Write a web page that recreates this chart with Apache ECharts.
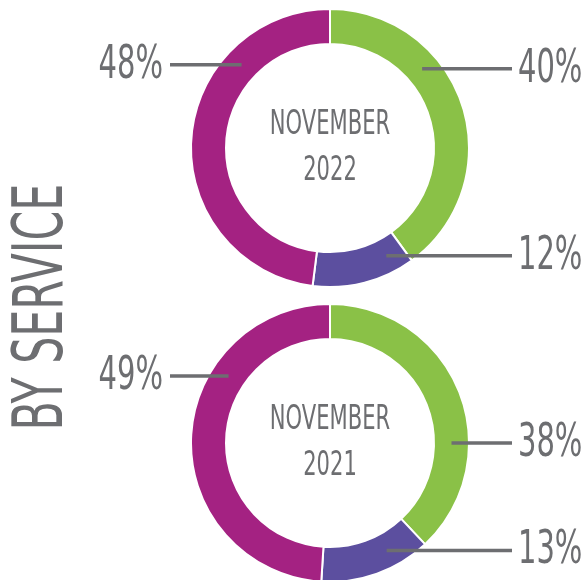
<!DOCTYPE html>
<html>
<head>
<meta charset="utf-8">
<script src="https://cdn.jsdelivr.net/npm/echarts@6/dist/echarts.min.js"></script>
<style>
html,body{margin:0;padding:0;background:#fff;}
#chart{width:585px;height:580px;}
</style>
</head>
<body>
<div id="chart"></div>
<script>
// ---- data ----
const categories = ['Service A', 'Service B', 'Service C'];
const periodLabels = ['NOVEMBER\n2022', 'NOVEMBER\n2021'];
const values2022 = [40, 12, 48];
const values2021 = [38, 13, 49];
const sideTitle = 'BY SERVICE';

// ---- layout / style ----
const sliceColors = ['#8AC147', '#5C4F9F', '#A42282'];
const textGray = '#6D6E71';
const fontStack = "'DejaVu Sans Condensed', 'Liberation Sans Narrow', 'DejaVu Sans', sans-serif";
const pieCenters = [[330, 148], [330, 443]];
const innerR = 104, outerR = 139;
// angle (deg, counter-clockwise from 3 o'clock) where each leader line starts inside the ring
const anchorAngles = [[40.7, -62.4, 136.7], [0, -62.2, 146.6]];

const chart = echarts.init(document.getElementById('chart'), null, {renderer: 'canvas'});

function makePie(idx, values) {
  const [cx, cy] = pieCenters[idx];
  return {
    type: 'pie',
    center: [cx, cy],
    radius: [innerR, outerR],
    startAngle: 90,
    clockwise: true,
    avoidLabelOverlap: false,
    silent: true,
    itemStyle: {borderColor: '#fff', borderWidth: 2},
    label: {show: false},
    labelLine: {show: false},
    data: values.map((v, i) => ({name: categories[i], value: v, itemStyle: {color: sliceColors[i]}}))
  };
}

function labelGraphics(idx, values) {
  const [cx, cy] = pieCenters[idx];
  const out = [];
  values.forEach((v, i) => {
    const a = anchorAngles[idx][i] * Math.PI / 180;
    const r = (innerR + outerR) / 2;
    const sx = cx + r * Math.cos(a), sy = cy - r * Math.sin(a);
    const right = Math.cos(a) > 0;
    const ex = right ? cx + 182 : cx - 160;
    out.push({
      type: 'line', z: 10,
      shape: {x1: sx, y1: sy, x2: ex, y2: sy},
      style: {stroke: textGray, lineWidth: 3.5}
    });
    out.push({
      type: 'text', z: 10,
      x: right ? ex + 6 : ex - 7,
      y: sy + 1,
      scaleX: 0.7,
      style: {
        text: v + '%', fill: textGray, fontFamily: fontStack, fontSize: 46,
        align: right ? 'left' : 'right', verticalAlign: 'middle'
      }
    });
  });
  return out;
}

const centerTexts = periodLabels.map((t, i) => ({
  type: 'text', z: 10,
  x: pieCenters[i][0],
  y: pieCenters[i][1],
  scaleX: 0.71,
  style: {
    text: t, fill: textGray, fontFamily: fontStack, fontSize: 33,
    lineHeight: 46, align: 'center', verticalAlign: 'middle'
  }
}));

chart.setOption({
  animation: false,
  backgroundColor: '#fff',
  graphic: centerTexts
    .concat(labelGraphics(0, values2022))
    .concat(labelGraphics(1, values2021))
    .concat([{
      type: 'text', z: 10,
      x: 44, y: 307,
      rotation: Math.PI / 2,
      scaleX: 0.68,
      style: {
        text: sideTitle, fill: textGray, fontFamily: fontStack, fontSize: 70,
        align: 'center', verticalAlign: 'middle'
      }
    }]),
  series: [makePie(0, values2022), makePie(1, values2021)]
});
</script>
</body>
</html>
